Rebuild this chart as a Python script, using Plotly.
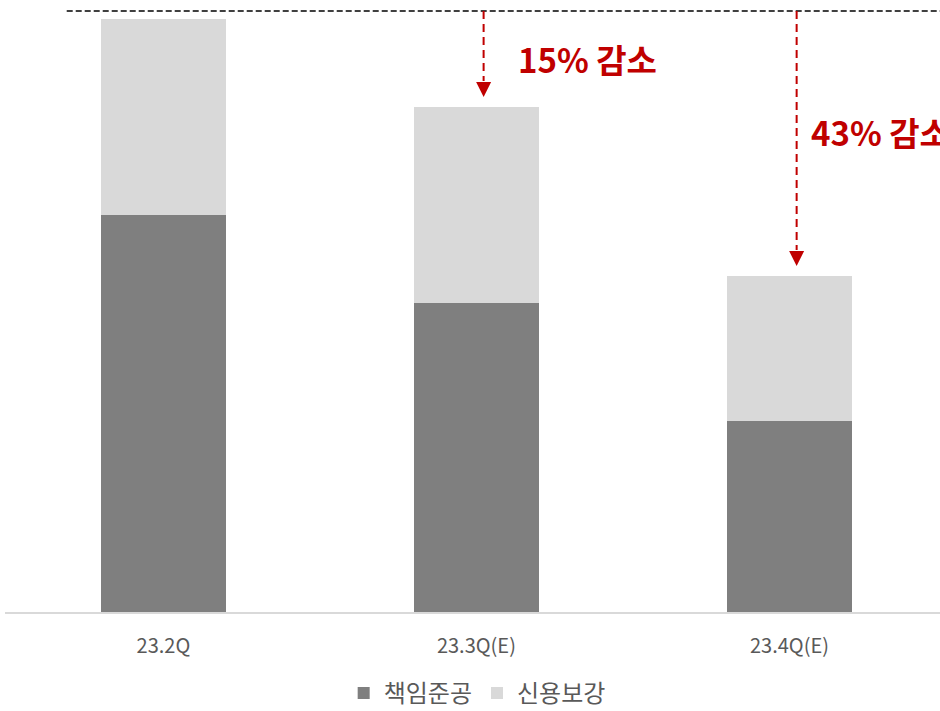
import plotly.graph_objects as go

categories = ["23.2Q", "23.3Q(E)", "23.4Q(E)"]
completion = [397, 309, 191]   # 책임준공
credit = [196, 196, 145]       # 신용보강
series_names = ["책임준공", "신용보강"]
change_labels = ["15% 감소", "43% 감소"]

totals = [a + b for a, b in zip(completion, credit)]
x = list(range(len(categories)))

FONT = "Noto Sans CJK KR"
RED = "#c00000"
DARK = "#7f7f7f"
LIGHT = "#d9d9d9"
TXT = "#595959"

fig = go.Figure()
fig.add_bar(x=x, y=completion, name=series_names[0], marker=dict(color=DARK, line=dict(width=0)), width=0.4)
fig.add_bar(x=x, y=credit, name=series_names[1], marker=dict(color=LIGHT, line=dict(width=0)), width=0.4)

ref_y = totals[0] + 8
fig.add_shape(type="line", xref="paper", yref="y", x0=0.066, x1=1.0, y0=ref_y, y1=ref_y,
              line=dict(color="#404040", width=2, dash="6px,3px"))

text_pos = [(1.126, 553), (2.062, 480)]
for k, i in enumerate([1, 2]):
    ax = i + 0.023
    tip = totals[i] + 10
    base = tip + 15
    fig.add_shape(type="line", xref="x", yref="y", x0=ax, x1=ax, y0=ref_y, y1=base + 1,
                  line=dict(color=RED, width=2, dash="8px,5px"))
    hw = 7.5 / 313
    fig.add_shape(type="path", xref="x", yref="y",
                  path=f"M{ax - hw},{base} L{ax + hw},{base} L{ax},{tip} Z",
                  fillcolor=RED, line=dict(color=RED, width=0))
    tx, ty = text_pos[k]
    fig.add_annotation(x=tx, y=ty, xref="x", yref="y", text=f"<b>{change_labels[k]}</b>",
                       showarrow=False, xanchor="left", yanchor="middle",
                       font=dict(family=FONT, size=33, color=RED))

fig.update_layout(
    width=940, height=711,
    margin=dict(l=5, r=0, t=0, b=99, autoexpand=False),
    barmode="stack",
    plot_bgcolor="white", paper_bgcolor="white",
    font=dict(family=FONT, color=TXT),
    showlegend=True,
    legend=dict(orientation="h", x=0.505, xanchor="center", y=-0.133, yanchor="middle",
                font=dict(family=FONT, size=24, color=TXT), traceorder="normal",
                itemwidth=30),
)
fig.update_xaxes(range=[-0.506, 2.481], tickvals=x, ticktext=categories, showline=True,
                 linecolor=LIGHT, linewidth=2, showgrid=False, zeroline=False, ticks="",
                 ticklabelstandoff=15, tickfont=dict(family=FONT, size=20, color=TXT))
fig.update_yaxes(range=[0, 612], visible=False)

fig.write_html("out.html", config={"displayModeBar": False},
               post_script="document.body.style.margin='0';")
